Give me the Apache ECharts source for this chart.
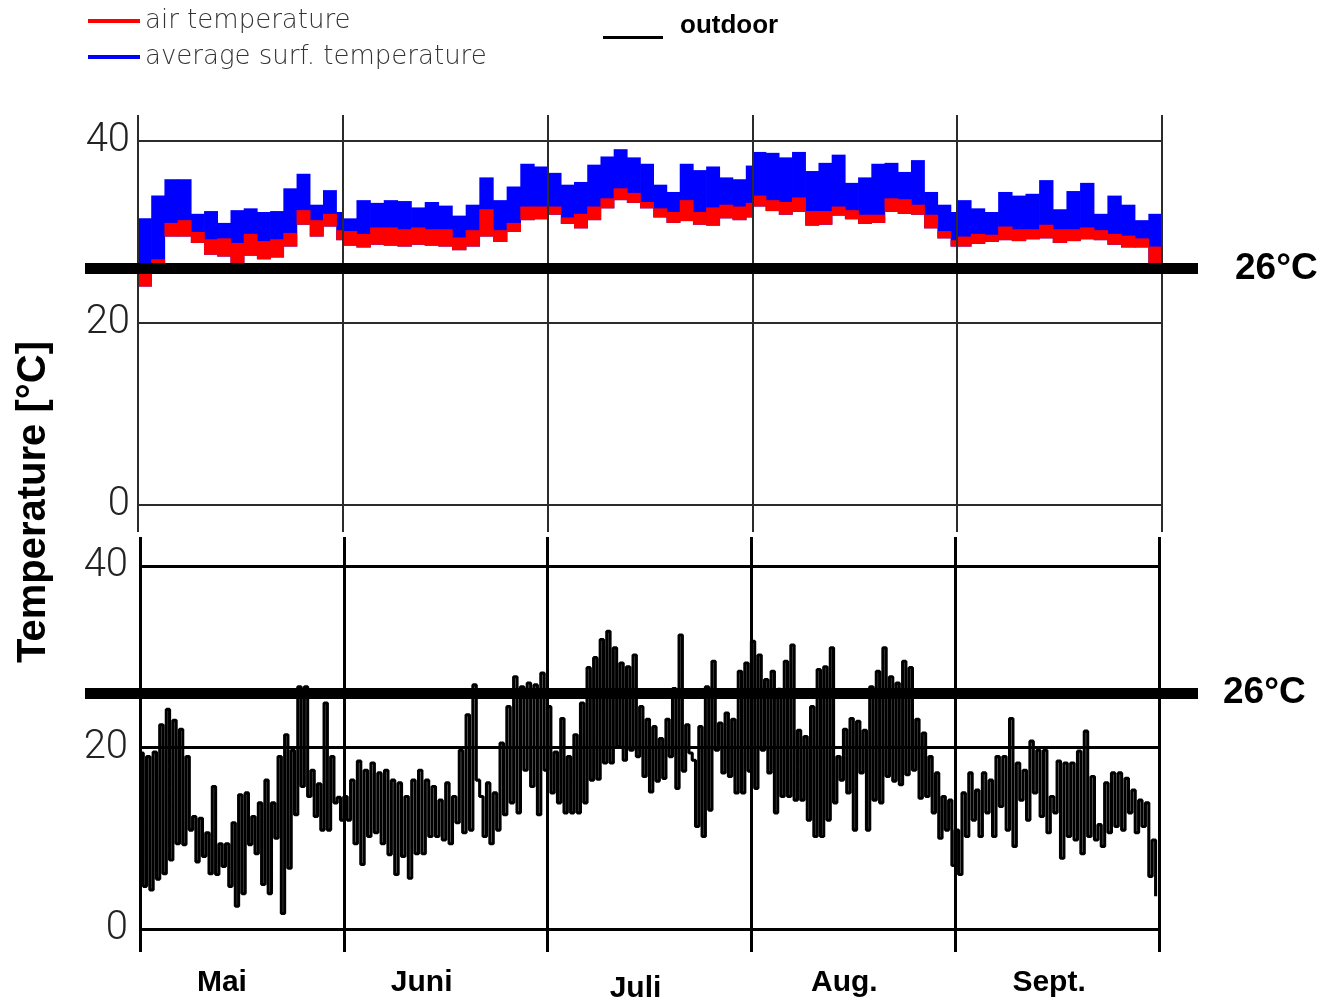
<!DOCTYPE html>
<html>
<head>
<meta charset="utf-8">
<script src="https://cdn.jsdelivr.net/npm/echarts@6/dist/echarts.min.js"></script>
<style>
  html, body { margin: 0; padding: 0; background: #fff; }
  #chart { width: 1323px; height: 1003px; }
</style>
</head>
<body>
<div id="chart"></div>
<script>
// Months of the summer period and their lengths
const months = ['Mai', 'Juni', 'Juli', 'Aug.', 'Sept.'];
const monthDays = [31, 30, 31, 31, 30];
const yTicks = [0, 20, 40];
const comfortLimit = 26;

// Indoor values, one sample every 2 days
const indoorStepDays = 2;
const surfMax = [
  31.5, 34.0, 35.8, 35.8, 32.0, 32.3, 31.0, 32.4, 32.6, 32.2, 32.3, 34.8, 36.4, 33.0, 34.6, 32.2, // Mai
  31.5, 33.5, 33.2, 33.5, 33.4, 32.7, 33.3, 32.9, 31.8, 33.0, 36.0, 33.5, 35.0, 37.5, 37.2,       // Juni
  36.5, 35.2, 35.5, 37.4, 38.3, 39.1, 38.2, 37.5, 35.2, 34.4, 37.5, 36.8, 37.2, 36.0, 35.8, 37.3, // Juli
  38.8, 38.7, 38.2, 38.8, 36.7, 37.6, 38.5, 35.4, 36.0, 37.5, 37.6, 36.6, 37.9, 34.4, 33.0, 32.2, // Aug.
  33.5, 32.6, 32.2, 34.4, 34.0, 34.2, 35.7, 32.5, 34.5, 35.4, 32.0, 34.0, 33.0, 31.3, 32.0        // Sept.
];
const airMax = [
  25.5, 27.0, 31.0, 31.3, 30.0, 29.2, 29.3, 28.8, 29.8, 29.0, 29.2, 29.9, 32.4, 31.3, 32.0, 30.2,
  30.1, 29.8, 30.5, 30.5, 30.3, 30.5, 30.3, 30.3, 29.4, 30.2, 32.5, 30.2, 31.0, 32.8, 32.8,
  32.8, 31.6, 32.0, 32.8, 33.7, 34.8, 34.3, 33.3, 32.6, 32.2, 33.5, 32.2, 32.7, 33.0, 32.8, 33.2,
  34.0, 33.5, 33.3, 33.8, 32.3, 32.3, 32.8, 32.4, 31.9, 31.9, 33.7, 33.6, 33.0, 31.9, 30.1, 29.1,
  29.5, 29.8, 29.7, 30.6, 30.3, 30.3, 30.8, 30.3, 30.3, 30.5, 30.2, 29.8, 29.6, 29.3, 28.4
];
const airMin = [
  24.0, 26.0, 29.5, 29.5, 28.8, 27.5, 27.3, 26.6, 27.4, 27.0, 27.2, 28.4, 30.8, 29.5, 30.6, 29.1,
  28.5, 28.3, 28.6, 28.5, 28.4, 28.6, 28.5, 28.4, 28.0, 28.4, 29.5, 28.9, 30.0, 31.3, 31.4,
  31.9, 30.9, 30.4, 31.3, 32.6, 33.5, 33.2, 32.6, 31.6, 31.0, 31.2, 30.8, 30.7, 31.5, 31.3, 31.6,
  32.8, 32.3, 31.9, 32.2, 30.7, 30.8, 31.8, 31.4, 30.9, 31.0, 32.2, 32.0, 31.9, 30.4, 29.3, 28.4,
  28.4, 28.7, 28.9, 29.1, 29.0, 29.2, 29.3, 28.8, 29.0, 29.2, 29.1, 28.6, 28.3, 28.3, 26.6
];

// Outdoor daily maximum / minimum
const outdoorMax = [
  19.4, 19.0, 19.5, 22.5, 24.2, 23.0, 22.0, 19.0, 12.4, 12.2, 10.6, 15.7, 9.4, 9.4, 11.7, 14.8,
  15.0, 12.4, 13.9, 16.4, 13.9, 19.0, 21.4, 19.7, 26.7, 26.7, 17.5, 16.0, 24.9, 19.0, 14.5,
  14.6, 16.4, 18.5, 17.5, 18.3, 17.2, 17.5, 16.4, 16.1, 14.6, 16.4, 17.5, 16.4, 15.7, 14.2,
  16.1, 14.6, 19.7, 23.6, 26.9, 14.6, 16.1, 15.0, 20.5, 24.5, 27.8, 26.7, 27.1, 26.9, 28.2,
  24.5, 19.5, 23.2, 19.0, 21.4, 24.9, 28.8, 29.9, 31.9, 32.8, 31.0, 29.3, 28.9, 30.2, 24.5,
  23.1, 22.3, 21.0, 23.1, 26.5, 32.4, 22.5, 18.6, 22.3, 26.7, 29.5, 22.7, 23.8, 23.1, 28.4, 29.3,
  31.7, 30.2, 27.5, 28.4, 26.4, 29.5, 31.3, 21.9, 21.2, 24.5, 28.6, 28.9, 31.0, 19.0, 22.0,
  23.2, 22.9, 21.9, 26.7, 28.4, 31.0, 27.8, 27.1, 29.5, 28.8, 23.1, 21.6, 19.0, 17.2, 14.6, 14.2,
  10.9, 15.0, 17.2, 15.3, 17.2, 16.4, 19.0, 19.0, 23.2, 18.3, 17.5, 20.7, 19.7, 19.7, 14.6,
  18.5, 18.3, 18.3, 19.6, 21.8, 16.8, 11.5, 16.1, 17.2, 17.2, 16.6, 15.3, 14.2, 13.9, 9.8
];
const outdoorMin = [
  4.7, 4.3, 5.5, 6.1, 7.6, 9.4, 9.3, 10.9, 7.4, 8.0, 6.1, 6.0, 6.9, 4.7, 2.5, 3.9,
  9.3, 8.3, 4.9, 3.9, 10.0, 1.7, 6.7, 12.6, 15.7, 14.6, 12.4, 10.9, 10.9, 13.9, 12.0,
  12.0, 9.4, 7.1, 10.2, 10.6, 9.4, 8.2, 6.0, 8.0, 5.6, 8.3, 8.3, 10.2, 10.2, 9.8,
  9.4, 11.7, 10.6, 10.9, 16.4, 10.2, 9.4, 10.9, 12.6, 13.9, 12.8, 17.5, 15.7, 12.6, 17.5,
  15.0, 13.9, 12.8, 12.8, 12.8, 13.9, 16.4, 16.5, 18.3, 18.3, 20.1, 18.6, 19.7, 19.0, 16.8,
  15.1, 16.3, 16.6, 19.0, 15.5, 17.4, 19.4, 11.3, 10.2, 13.1, 19.7, 17.2, 16.8, 15.0, 15.0, 17.4,
  15.5, 19.7, 17.2, 12.8, 14.6, 14.6, 14.2, 14.2, 12.0, 10.2, 10.2, 12.0, 13.9, 16.4, 15.0,
  10.9, 17.2, 10.9, 14.2, 13.9, 16.8, 16.3, 15.9, 17.0, 17.5, 14.4, 14.6, 12.8, 10.0, 10.9, 7.0,
  6.0, 10.2, 12.0, 10.2, 12.8, 10.2, 13.5, 10.9, 9.1, 14.2, 12.0, 15.0, 12.4, 10.6, 12.8,
  7.8, 10.2, 9.8, 8.3, 10.2, 9.8, 9.1, 10.6, 11.3, 10.9, 12.8, 10.6, 11.3, 5.8, 3.6
];

// Position along the x axis: one unit per month
const indoorX = [];
monthDays.forEach((len, m) => {
  for (let d = 0; d < len; d += indoorStepDays) indoorX.push(m + d / len);
});
const indoorEdge = indoorX.concat([months.length]);

const outdoorPoints = [];
let day = 0;
monthDays.forEach((len, m) => {
  for (let d = 0; d < len; d++, day++) {
    outdoorPoints.push([m + d / len, outdoorMax[day]]);
    outdoorPoints.push([m + (d + 0.5) / len, outdoorMin[day]]);
  }
});

const RED = '#ff0000', BLUE = '#0000ff';
const thinFont = 'Roboto';
const boldFont = '"Liberation Sans", Arial, sans-serif';

const topPanel = { top: 141, bottom: 498, left: 138, right: 161 };
const botPanel = { top: 566, bottom: 74, left: 140, right: 164 };

function grid(o) { return Object.assign({ containLabel: false, outerBoundsMode: 'none' }, o); }

const hiddenX = (gi, min, max) => ({ gridIndex: gi, type: 'value', min, max, show: false });
const frameX = (gi, color, width) => ({
  gridIndex: gi, type: 'value', min: 0, max: months.length, interval: 1, z: 5,
  axisLine: { show: false }, axisTick: { show: false }, axisLabel: { show: false },
  splitLine: { show: true, lineStyle: { color, width } }
});
const valueY = (gi, color, width, margin) => ({
  gridIndex: gi, type: 'value', min: yTicks[0], max: yTicks[yTicks.length - 1], interval: 20,
  axisLine: { show: false }, axisTick: { show: false },
  axisLabel: { margin, fontFamily: thinFont, fontWeight: 300, fontSize: 40, color: '#222' },
  splitLine: { show: true, lineStyle: { color, width } }
});
const hiddenY = (gi) => ({ gridIndex: gi, type: 'value', min: yTicks[0], max: yTicks[yTicks.length - 1], show: false });

// Band of stepped ranges: each sample spans until the next one
const bandSeries = (name, lo, hi, color) => ({
  name, type: 'custom', xAxisIndex: 0, yAxisIndex: 0, silent: true,
  itemStyle: { color },
  encode: { x: [0, 1], y: [2, 3] },
  data: indoorX.map((x, i) => [x, indoorEdge[i + 1], lo[i], hi[i]]),
  renderItem: (params, api) => {
    const a = api.coord([api.value(0), api.value(3)]);
    const b = api.coord([api.value(1), api.value(2)]);
    return {
      type: 'rect',
      shape: { x: a[0], y: a[1], width: b[0] - a[0] + 0.7, height: b[1] - a[1] },
      style: { fill: color }
    };
  }
});

const limitSeries = (xi, yi, dist) => ({
  type: 'line', xAxisIndex: xi, yAxisIndex: yi, data: [], silent: true, z: 6,
  markLine: {
    silent: true, symbol: 'none', animation: false,
    data: [{ yAxis: comfortLimit }],
    lineStyle: { color: '#000', width: 11, type: 'solid' },
    label: {
      show: true, position: 'end', distance: dist,
      formatter: comfortLimit + '°C',
      fontFamily: boldFont, fontWeight: 'bold', fontSize: 37, color: '#000'
    },
    emphasis: { disabled: true }
  }
});

const shifts = [40, 48, 28, 18, 16];
const monthRich = {};
months.forEach((mo, i) => {
  monthRich['m' + i] = {
    fontFamily: boldFont, fontWeight: 'bold', fontSize: 30, color: '#000',
    padding: [i === 2 ? 6 : 0, shifts[i], 0, 0]
  };
});

const chart = echarts.init(document.getElementById('chart'), null, { renderer: 'canvas' });
chart.setOption({
  animation: false,
  backgroundColor: '#fff',
  grid: [
    grid(topPanel),                                                    // 0 indoor data
    grid({ top: 115, bottom: 471, left: 138, right: 161 }),            // 1 indoor frame
    grid(botPanel),                                                    // 2 outdoor data
    grid({ top: 537, bottom: 51, left: 140, right: 164 }),             // 3 outdoor frame
    grid({ top: topPanel.top, bottom: topPanel.bottom, left: 85, right: 125 }), // 4 limit line, indoor
    grid({ top: botPanel.top, bottom: botPanel.bottom, left: 85, right: 125 })  // 5 limit line, outdoor
  ],
  xAxis: [
    hiddenX(0, 0, months.length),
    frameX(1, '#2b2b2b', 2),
    hiddenX(2, 0, months.length),
    frameX(3, '#000', 3),
    {
      gridIndex: 3, type: 'category', data: months, position: 'bottom', boundaryGap: true,
      axisLine: { show: false }, axisTick: { show: false }, splitLine: { show: false },
      axisLabel: {
        margin: 16, interval: 0,
        formatter: (v, i) => '{m' + i + '|' + v + '}',
        rich: monthRich
      }
    },
    hiddenX(4, 0, 1),
    hiddenX(5, 0, 1)
  ],
  yAxis: [
    valueY(0, '#2b2b2b', 2, 8),
    hiddenY(1),
    valueY(2, '#000', 3, 12),
    hiddenY(3),
    hiddenY(4),
    hiddenY(5)
  ],
  legend: [
    {
      data: ['air temperature', 'average surf. temperature'],
      orient: 'vertical', left: 88, top: 8, padding: 0,
      itemWidth: 52, itemHeight: 4, itemGap: 10, icon: 'rect', selectedMode: false,
      itemStyle: { borderWidth: 0 },
      textStyle: { fontFamily: '"DejaVu Sans", sans-serif', fontWeight: 200, fontSize: 26, color: '#333' }
    },
    {
      data: ['outdoor'],
      left: 603, top: 13, padding: 0,
      itemWidth: 72, itemHeight: 26, selectedMode: false,
      icon: 'path://M0,0L0,0.01M72,0L72,0.01M0,23L60,23L60,26L0,26Z',
      itemStyle: { borderWidth: 0 },
      textStyle: { fontFamily: boldFont, fontWeight: 'bold', fontSize: 26, color: '#000' }
    }
  ],
  graphic: [{
    type: 'text', x: 34, y: 502, rotation: Math.PI / 2, silent: true,
    style: {
      text: 'Temperature [°C]', fontFamily: boldFont, fontWeight: 'bold', fontSize: 40,
      fill: '#000', align: 'center', verticalAlign: 'middle'
    }
  }],
  series: [
    bandSeries('average surf. temperature', airMin, surfMax, BLUE),
    bandSeries('air temperature', airMin, airMax, RED),
    {
      name: 'outdoor', type: 'line', xAxisIndex: 2, yAxisIndex: 2, step: 'end',
      symbol: 'none', silent: true, data: outdoorPoints,
      itemStyle: { color: '#000' },
      lineStyle: { color: '#000', width: 3.1 }
    },
    limitSeries(5, 4, 37),
    limitSeries(6, 5, 25)
  ]
});
</script>
</body>
</html>
